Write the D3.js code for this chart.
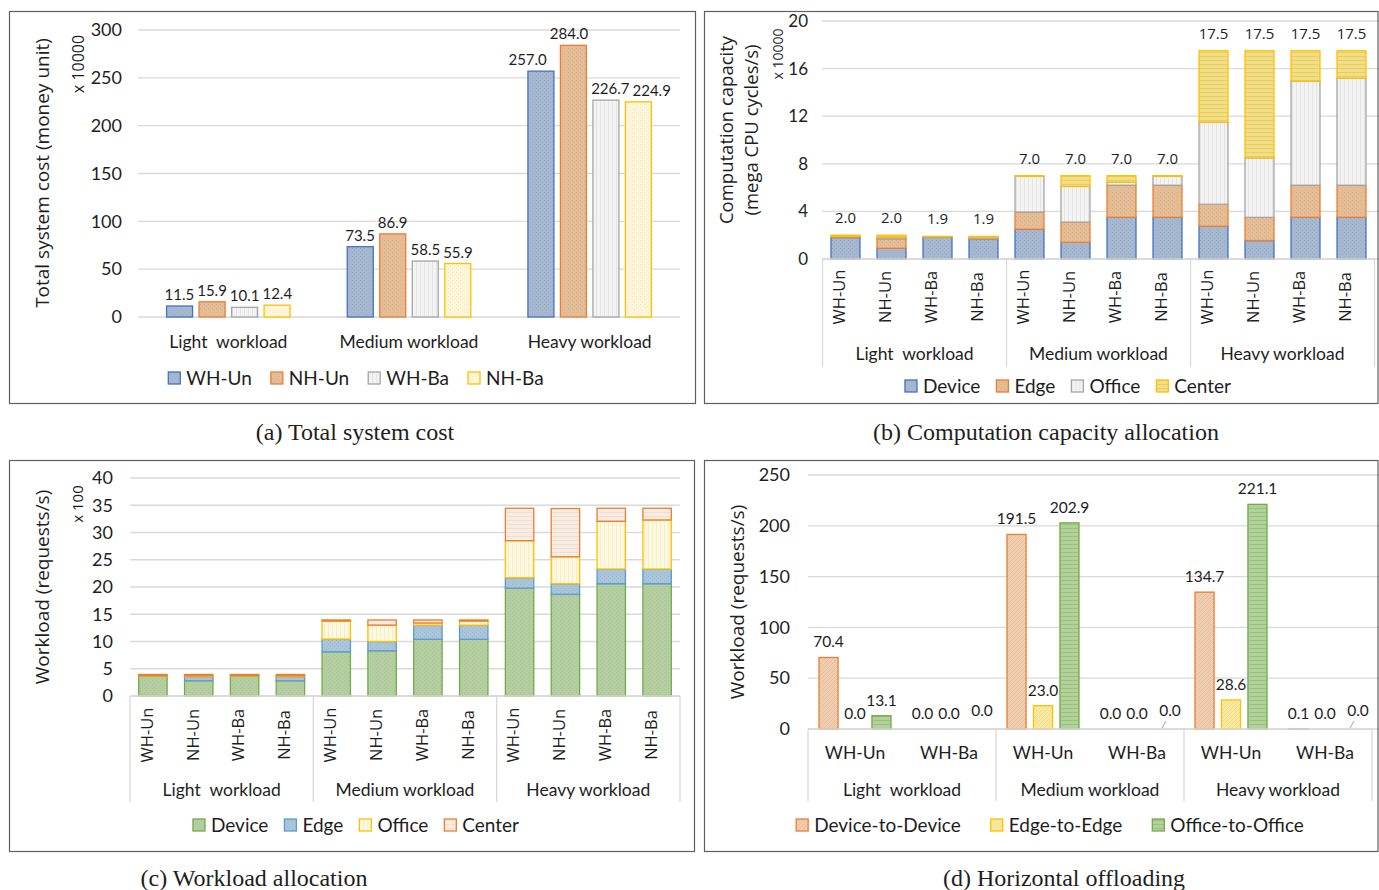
<!DOCTYPE html>
<html>
<head>
<meta charset="utf-8">
<script src="https://cdn.jsdelivr.net/npm/d3@7"></script>
<style>
  body { margin: 0; background: #fff; }
  svg { display: block; }
</style>
</head>
<body>
<svg id="fig" width="1379" height="890"></svg>
<script>
// ---------------- data ----------------
const workloads = ["Light  workload", "Medium workload", "Heavy workload"];
const schemes = ["WH-Un", "NH-Un", "WH-Ba", "NH-Ba"];

// (a) total system cost (x 10000 money units), one value per workload
const costWHUn = [11.5, 73.5, 257.0];
const costNHUn = [15.9, 86.9, 284.0];
const costWHBa = [10.1, 58.5, 226.7];
const costNHBa = [12.4, 55.9, 224.9];
const costTicks = [0, 50, 100, 150, 200, 250, 300];

// (b) computation capacity (x 10000 mega CPU cycles/s)
// order: light WH-Un, NH-Un, WH-Ba, NH-Ba, medium ..., heavy ...
const tierNames = ["Device", "Edge", "Office", "Center"];
const capDevice = [1.8, 0.9, 1.85, 1.65, 2.5, 1.4, 3.5, 3.5, 2.75, 1.55, 3.5, 3.5];
const capEdge   = [0.05, 0.8, 0.0, 0.05, 1.45, 1.7, 2.7, 2.7, 1.85, 1.95, 2.7, 2.7];
const capOffice = [0.05, 0.15, 0.0, 0.15, 3.0, 3.0, 0.25, 0.75, 6.9, 5.0, 8.75, 9.0];
const capCenter = [0.1, 0.15, 0.05, 0.05, 0.05, 0.9, 0.55, 0.05, 6.0, 9.0, 2.55, 2.3];
const capTicks = [0, 4, 8, 12, 16, 20];

// (c) workload allocation (x 100 requests/s), same bar order as (b)
const loadDevice = [3.7, 2.8, 3.7, 2.8, 8.1, 8.3, 10.4, 10.4, 19.8, 18.65, 20.6, 20.6];
const loadEdge   = [0.0, 0.75, 0.0, 0.75, 2.35, 1.7, 2.6, 2.6, 1.9, 1.95, 2.7, 2.7];
const loadOffice = [0.05, 0.15, 0.05, 0.15, 3.3, 3.0, 0.4, 0.75, 6.8, 4.95, 8.75, 9.0];
const loadCenter = [0.2, 0.25, 0.2, 0.25, 0.2, 0.95, 0.55, 0.2, 5.95, 8.85, 2.4, 2.15];
const loadTicks = [0, 5, 10, 15, 20, 25, 30, 35, 40];

// (d) horizontal offloading (requests/s)
// order: light WH-Un, light WH-Ba, medium WH-Un, medium WH-Ba, heavy WH-Un, heavy WH-Ba
const offloadSchemes = ["WH-Un", "WH-Ba"];
const offloadNames = ["Device-to-Device", "Edge-to-Edge", "Office-to-Office"];
const offD2D = [70.4, 0.0, 191.5, 0.0, 134.7, 0.1];
const offE2E = [0.0, 0.0, 23.0, 0.0, 28.6, 0.0];
const offO2O = [13.1, 0.0, 202.9, 0.0, 221.1, 0.0];
const offTicks = [0, 50, 100, 150, 200, 250];

const captions = ["(a) Total system cost", "(b) Computation capacity allocation",
                  "(c) Workload allocation", "(d) Horizontal offloading"];

// ---------------- drawing ----------------
const svg = d3.select("#fig");
svg.append("rect").attr("width", 1379).attr("height", 890).attr("fill", "#fff");
const defs = svg.append("defs");

const FN = "Lato, 'Open Sans', sans-serif";
const FW = "'Open Sans', 'Noto Sans', sans-serif";
const FS = "'Liberation Serif', 'DejaVu Serif', serif";
const INK = "#1e1e1e";
const GRID = "#d9d9d9";
const fmt = d3.format(".1f");

// small repeating textures, like office-chart pattern fills
function texture(id, base, ink, kind) {
  const p = defs.append("pattern").attr("id", id)
    .attr("patternUnits", "userSpaceOnUse").attr("width", 4).attr("height", 4);
  p.append("rect").attr("width", 4).attr("height", 4).attr("fill", base);
  if (kind === "h") p.append("rect").attr("width", 4).attr("height", 1).attr("fill", ink);
  else if (kind === "v") p.append("rect").attr("width", 1).attr("height", 4).attr("fill", ink);
  else if (kind === "d") p.append("path").attr("d", "M-1,1 L1,-1 M0,4 L4,0 M3,5 L5,3")
    .attr("stroke", ink).attr("stroke-width", 0.8);
  else if (kind === "x") {
    p.append("rect").attr("width", 1).attr("height", 1).attr("fill", ink);
    p.append("rect").attr("x", 2).attr("y", 2).attr("width", 1).attr("height", 1).attr("fill", ink);
  }
  return `url(#${id})`;
}

const blue   = { fill: texture("tBlue", "#a5b8d0", "#97abc6", "x"), stroke: "#4472c4" };
const orange = { fill: texture("tOrange", "#e4bd97", "#dab088", "x"), stroke: "#ed7d31" };
const grey   = { fill: texture("tGrey", "#f3f3f3", "#e4e4e4", "v"), stroke: "#a5a5a5" };
const cream  = { fill: texture("tCreamA", "#fdf6da", "#f5eabf", "x"), stroke: "#ffc000" };
const schemeStyle = [blue, orange, grey, cream];

const tierStyleB = [blue, orange, grey,
  { fill: texture("tYellowH", "#f2df85", "#e6cd66", "h"), stroke: "#ffc000" }];

const tierStyleC = [
  { fill: texture("tGreen", "#b5cea1", "#a8c492", "x"), stroke: "#70ad47" },
  { fill: texture("tSky", "#aac4da", "#9cb8d1", "x"), stroke: "#5b9bd5" },
  { fill: texture("tCream", "#fdf8e0", "#f5edc8", "v"), stroke: "#ffc000" },
  { fill: texture("tBlush", "#f7ede4", "#eedfd0", "h"), stroke: "#ed7d31" }];

const offStyle = [
  { fill: texture("tPeach", "#efcdb0", "#e4ba98", "d"), stroke: "#ed7d31" },
  { fill: texture("tLemon", "#f9e9a3", "#efd982", "d"), stroke: "#ffc000" },
  { fill: texture("tLeaf", "#b2d09a", "#9cbf80", "h"), stroke: "#70ad47" }];

function frame(x, y, w, h) {
  svg.append("rect").attr("x", x).attr("y", y).attr("width", w).attr("height", h)
    .attr("fill", "none").attr("stroke", "#5f5f5f").attr("stroke-width", 1.2);
}

function valueAxis(g, y, ticks, x0, x1, pad, size) {
  g.append("g").selectAll("line").data(ticks).join("line")
    .attr("x1", x0).attr("x2", x1).attr("y1", d => y(d)).attr("y2", d => y(d))
    .attr("stroke", GRID).attr("stroke-width", 1.3);
  const ax = g.append("g").attr("transform", `translate(${x0},0)`)
    .call(d3.axisLeft(y).tickValues(ticks).tickSize(0).tickPadding(pad));
  ax.select(".domain").remove();
  ax.selectAll("text").attr("font-family", FN).attr("font-size", size).attr("fill", INK);
}

function vText(g, text, cx, cy, size, family) {
  g.append("text").attr("transform", `translate(${cx + size * 0.35},${cy}) rotate(-90)`)
    .attr("text-anchor", "middle").attr("font-family", family).attr("font-size", size)
    .attr("fill", INK).style("white-space", "pre").text(text);
}

function hText(g, text, cx, cy, size, family) {
  g.append("text").attr("x", cx).attr("y", cy).attr("dy", "0.35em")
    .attr("text-anchor", "middle").attr("font-family", family).attr("font-size", size)
    .attr("fill", INK).style("white-space", "pre").text(text);
}

function legend(g, items, cx, cy, size, family, gap) {
  const grp = g.append("g");
  let x = 0;
  items.forEach(it => {
    const item = grp.append("g").attr("transform", `translate(${x},0)`);
    item.append("rect").attr("x", 0).attr("y", cy - 6).attr("width", 12).attr("height", 12)
      .attr("fill", it.fill).attr("stroke", it.stroke).attr("stroke-width", 1.3);
    const t = item.append("text").attr("x", 18).attr("y", cy).attr("dy", "0.35em")
      .attr("font-family", family).attr("font-size", size).attr("fill", INK).text(it.name);
    x += 18 + t.node().getComputedTextLength() + gap;
  });
  grp.attr("transform", `translate(${cx - (x - gap) / 2},0)`);
}

// two-level category axis (bars under groups) with separators
function groupAxis(g, xBand, keysPerGroup, y0, sepLen, groupY, size) {
  const step = xBand.step();
  const start = xBand.range()[0];
  const n = workloads.length;
  g.append("line").attr("x1", start).attr("x2", start + step * keysPerGroup * n)
    .attr("y1", y0).attr("y2", y0).attr("stroke", GRID).attr("stroke-width", 1.3);
  d3.range(n + 1).forEach(i => {
    const x = start + step * keysPerGroup * i;
    g.append("line").attr("x1", x).attr("x2", x).attr("y1", y0).attr("y2", y0 + sepLen)
      .attr("stroke", GRID).attr("stroke-width", 1.3);
  });
  workloads.forEach((w, i) => {
    hText(g, w, start + step * keysPerGroup * (i + 0.5), groupY, size, FN);
  });
}

function stacked(g, keys, xBand, y, columns, styles) {
  const rows = keys.map((k, i) => {
    const r = { key: k };
    tierNames.forEach((t, j) => { r[t] = columns[j][i]; });
    return r;
  });
  const series = d3.stack().keys(tierNames)(rows);
  series.forEach((s, si) => {
    g.append("g").selectAll("rect").data(s.filter(d => d[1] - d[0] > 0)).join("rect")
      .attr("x", d => xBand(d.data.key)).attr("width", xBand.bandwidth())
      .attr("y", d => y(d[1])).attr("height", d => y(d[0]) - y(d[1]))
      .attr("fill", styles[si].fill).attr("stroke", styles[si].stroke).attr("stroke-width", 1.3);
  });
  return rows.map(r => ({ key: r.key, total: d3.sum(tierNames, t => r[t]) }));
}

// ======== (a) Total system cost ========
{
  const g = svg.append("g");
  frame(9.5, 11.5, 686, 392);
  const y = d3.scaleLinear().domain([0, 300]).range([317, 30]);
  valueAxis(g, y, costTicks, 138, 680, 16, 18);
  const x0 = d3.scaleBand().domain(workloads).range([138, 680]);
  const inner = 123.5;
  const x1 = d3.scaleBand().domain(schemes).range([0, inner]).paddingInner(0.2);
  const off = (x0.bandwidth() - inner) / 2;
  const costSeries = [costWHUn, costNHUn, costWHBa, costNHBa];
  const labelNodes = workloads.map(() => []);
  costSeries.forEach((vals, si) => {
    const xs = (d, i) => x0(workloads[i]) + off + x1(schemes[si]);
    g.append("g").selectAll("rect").data(vals).join("rect")
      .attr("x", xs).attr("width", x1.bandwidth())
      .attr("y", d => y(d)).attr("height", d => y(0) - y(d))
      .attr("fill", schemeStyle[si].fill).attr("stroke", schemeStyle[si].stroke)
      .attr("stroke-width", 1.3);
    g.append("g").selectAll("text").data(vals).join("text")
      .attr("x", (d, i) => xs(d, i) + x1.bandwidth() / 2).attr("y", d => y(d) - 6)
      .attr("text-anchor", "middle").attr("font-family", FN).attr("font-size", 15)
      .attr("fill", INK).text(d => fmt(d))
      .each(function (d, i) { labelNodes[i].push(this); });
  });
  // spread crowded value labels apart symmetrically within each workload
  labelNodes.forEach(nodes => {
    const items = nodes.map(n => ({ n, w: n.getComputedTextLength(), cx: +n.getAttribute("x") }));
    for (let it = 0; it < 60; it++) {
      for (let k = 0; k < items.length - 1; k++) {
        const a = items[k], b = items[k + 1];
        const overlap = (a.cx + a.w / 2 + 3) - (b.cx - b.w / 2);
        if (overlap > 0) { a.cx -= overlap / 2; b.cx += overlap / 2; }
      }
    }
    items.forEach(d => d.n.setAttribute("x", d.cx));
  });
  workloads.forEach(w => hText(g, w, x0(w) + x0.bandwidth() / 2, 342, 17.5, FN));
  vText(g, "Total system cost (money unit)", 42, 173, 19, FW);
  vText(g, "x 10000", 78, 64, 16, FW);
  legend(g, schemes.map((s, i) => ({ name: s, fill: schemeStyle[i].fill, stroke: schemeStyle[i].stroke })),
    356, 378, 19, FN, 19);
  hText(g, captions[0], 355, 432, 24, FS);
}

// ======== (b) Computation capacity allocation ========
const barKeys = workloads.flatMap(w => schemes.map(s => w + "|" + s));
{
  const g = svg.append("g");
  frame(704.5, 11.5, 673.5, 392);
  const y = d3.scaleLinear().domain([0, 20]).range([259, 21]);
  valueAxis(g, y, capTicks, 822, 1379, 14, 17);
  const x = d3.scaleBand().domain(barKeys).range([822.5, 1374.5])
    .paddingInner(0.37).paddingOuter(0.185);
  const totals = stacked(g, barKeys, x, y, [capDevice, capEdge, capOffice, capCenter], tierStyleB);
  g.append("g").selectAll("text").data(totals).join("text")
    .attr("x", d => x(d.key) + x.bandwidth() / 2).attr("y", d => y(d.total) - 12)
    .attr("text-anchor", "middle").attr("font-family", FW).attr("font-size", 15)
    .attr("fill", INK).text(d => fmt(d.total));
  groupAxis(g, x, 4, 259, 108, 354, 17.5);
  barKeys.forEach(k => vText(g, k.split("|")[1], x(k) + x.bandwidth() / 2 - 6, 297, 16.5, FW));
  vText(g, "Computation capacity", 727, 130, 18.5, FW);
  vText(g, "(mega CPU cycles/s)", 752, 130, 18.5, FW);
  vText(g, "x 10000", 778, 54, 14, FW);
  legend(g, tierNames.map((t, i) => ({ name: t, fill: tierStyleB[i].fill, stroke: tierStyleB[i].stroke })),
    1068, 386, 19, FN, 16);
  hText(g, captions[1], 1046, 432, 24, FS);
}

// ======== (c) Workload allocation ========
{
  const g = svg.append("g");
  frame(9.5, 460.5, 685, 391);
  const y = d3.scaleLinear().domain([0, 40]).range([696, 478]);
  valueAxis(g, y, loadTicks, 130, 680, 17, 18);
  const x = d3.scaleBand().domain(barKeys).range([130, 680])
    .paddingInner(0.38).paddingOuter(0.19);
  stacked(g, barKeys, x, y, [loadDevice, loadEdge, loadOffice, loadCenter], tierStyleC);
  groupAxis(g, x, 4, 696, 106, 790, 17.5);
  barKeys.forEach(k => vText(g, k.split("|")[1], x(k) + x.bandwidth() / 2 - 6, 735, 16.5, FW));
  vText(g, "Workload (requests/s)", 42, 587, 19, FW);
  vText(g, "x 100", 78, 504, 15, FW);
  legend(g, tierNames.map((t, i) => ({ name: t, fill: tierStyleC[i].fill, stroke: tierStyleC[i].stroke })),
    356, 825, 19, FN, 16);
  hText(g, captions[2], 254, 878, 24, FS);
}

// ======== (d) Horizontal offloading ========
{
  const g = svg.append("g");
  frame(704.5, 460.5, 673.5, 391);
  const y = d3.scaleLinear().domain([0, 250]).range([729, 475]);
  valueAxis(g, y, offTicks, 808, 1379, 18, 18);
  const subKeys = workloads.flatMap(w => offloadSchemes.map(s => w + "|" + s));
  const x0 = d3.scaleBand().domain(subKeys).range([808, 1372]);
  const inner = 72;
  const x1 = d3.scaleBand().domain(offloadNames).range([0, inner]).paddingInner(0.28);
  const off = (x0.bandwidth() - inner) / 2;
  const offSeries = [offD2D, offE2E, offO2O];
  offSeries.forEach((vals, si) => {
    const cells = vals.map((v, i) => ({ v, i, key: subKeys[i] }));
    const xs = d => x0(d.key) + off + x1(offloadNames[si]);
    g.append("g").selectAll("rect").data(cells.filter(d => d.v > 0)).join("rect")
      .attr("x", xs).attr("width", x1.bandwidth())
      .attr("y", d => y(d.v)).attr("height", d => y(0) - y(d.v))
      .attr("fill", offStyle[si].fill).attr("stroke", offStyle[si].stroke).attr("stroke-width", 1.3);
    cells.forEach(d => {
      const cx = xs(d) + x1.bandwidth() / 2;
      // the last label of an idle WH-Ba group sits to the right, tied back by a leader
      const nudged = si === 2 && d.key.endsWith("WH-Ba");
      const lx = nudged ? cx + 6.5 : cx;
      const ly = y(d.v) - (nudged ? 13 : 10);
      g.append("text").attr("x", lx).attr("y", ly).attr("text-anchor", "middle")
        .attr("font-family", FN).attr("font-size", 15.5).attr("fill", INK).text(fmt(d.v));
      if (nudged && d.i > 1) {
        g.append("line").attr("x1", lx - 4).attr("y1", ly + 5).attr("x2", cx - 1.5).attr("y2", y(d.v) - 1)
          .attr("stroke", "#a6a6a6").attr("stroke-width", 1);
      }
    });
  });
  groupAxis(g, x0, 2, 729, 72, 790, 17.5);
  subKeys.forEach(k => hText(g, k.split("|")[1], x0(k) + x0.bandwidth() / 2, 753, 17.5, FN));
  vText(g, "Workload (requests/s)", 737, 602, 19, FW);
  legend(g, offloadNames.map((t, i) => ({ name: t, fill: offStyle[i].fill, stroke: offStyle[i].stroke })),
    1050, 825, 19, FN, 30);
  hText(g, captions[3], 1064, 878, 24, FS);
}
</script>
</body>
</html>
